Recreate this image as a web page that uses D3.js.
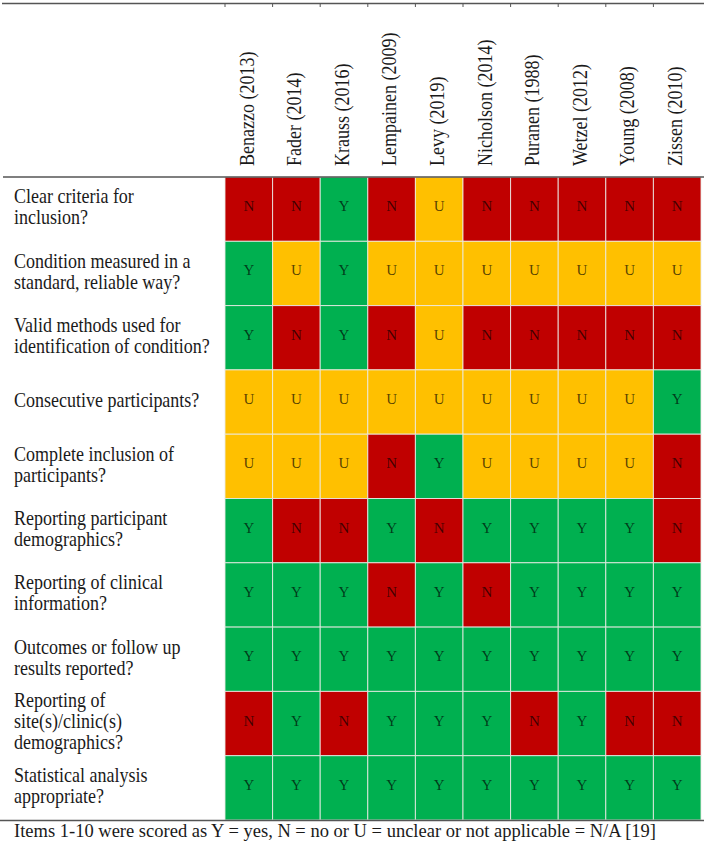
<!DOCTYPE html>
<html>
<head>
<meta charset="utf-8">
<script src="https://cdn.jsdelivr.net/npm/d3@7"></script>
<style>
  body { margin: 0; background: #fff; }
  svg { display: block; font-family: "Liberation Serif", "Times New Roman", serif; }
</style>
</head>
<body>
<div id="chart"></div>
<script>
// studies (columns)
const studies = ["Benazzo (2013)", "Fader (2014)", "Krauss (2016)", "Lempainen (2009)", "Levy (2019)",
    "Nicholson (2014)", "Puranen (1988)", "Wetzel (2012)", "Young (2008)", "Zissen (2010)"];

// checklist items (rows), split in lines as printed
const items = [
    ["Clear criteria for", "inclusion?"],
    ["Condition measured in a", "standard, reliable way?"],
    ["Valid methods used for", "identification of condition?"],
    ["Consecutive participants?"],
    ["Complete inclusion of", "participants?"],
    ["Reporting participant", "demographics?"],
    ["Reporting of clinical", "information?"],
    ["Outcomes or follow up", "results reported?"],
    ["Reporting of", "site(s)/clinic(s)", "demographics?"],
    ["Statistical analysis", "appropriate?"]
];

// scores, one string per item, one letter per study
const scores = [
    "NNYNUNNNNN",
    "YUYUUUUUUU",
    "YNYNUNNNNN",
    "UUUUUUUUUY",
    "UUUNYUUUUN",
    "YNNYNYYYYN",
    "YYYNYNYYYY",
    "YYYYYYYYYY",
    "NYNYYYNYNN",
    "YYYYYYYYYY"
];

const scoreKeys = ["Y", "N", "U"];
const scoreColors = ["#00B050", "#C00000", "#FFC000"];

const footnote = "Items 1-10 were scored as Y = yes, N = no or U = unclear or not applicable = N/A [19]";

function init() {
    const w = 704;
    const h = 843;
    const squeeze = 0.9; // the printed serif is a bit narrow

    const svg = d3.select("#chart")
        .append("svg")
        .attr("width", w)
        .attr("height", h);

    const x = d3.scaleBand()
        .domain(studies)
        .range([225, 701]);

    const y = d3.scaleBand()
        .domain(d3.range(items.length))
        .range([177, 820]);

    const color = d3.scaleOrdinal().domain(scoreKeys).range(scoreColors);

    let cells = [];
    scores.forEach(function (row, i) {
        row.split("").forEach(function (s, j) {
            cells.push({ row: i, study: studies[j], score: s });
        });
    });

    // coloured cells
    svg.append("g")
        .selectAll("rect")
        .data(cells)
        .enter()
        .append("rect")
        .attr("x", d => x(d.study))
        .attr("y", d => y(d.row))
        .attr("width", x.bandwidth())
        .attr("height", y.bandwidth())
        .attr("fill", d => color(d.score))
        .attr("stroke", "rgba(235,235,230,0.85)")
        .attr("stroke-width", 1);

    // letters
    svg.append("g")
        .selectAll("text")
        .data(cells)
        .enter()
        .append("text")
        .attr("x", d => x(d.study) + x.bandwidth() / 2)
        .attr("y", d => y(d.row) + y.bandwidth() / 2 - 3)
        .attr("text-anchor", "middle")
        .attr("dominant-baseline", "central")
        .attr("font-size", 15)
        .attr("fill", "#000")
        .attr("fill-opacity", 0.68)
        .text(d => d.score);

    // row labels, one text per printed line
    const lineH = 21;
    let labelLines = [];
    items.forEach(function (lines, i) {
        lines.forEach(function (line, k) {
            labelLines.push({ line: line, k: k, n: lines.length, row: i });
        });
    });

    svg.append("g")
        .selectAll("text")
        .data(labelLines)
        .enter()
        .append("text")
        .attr("transform", d => "translate(14," +
            (y(d.row) + y.bandwidth() / 2 - 2 + (d.k - (d.n - 1) / 2) * lineH) + ") scale(" + squeeze + ",1)")
        .attr("font-size", 20)
        .attr("fill", "#1a1a1a")
        .attr("dominant-baseline", "central")
        .text(d => d.line);

    // rotated study names
    svg.append("g")
        .selectAll("text")
        .data(studies)
        .enter()
        .append("text")
        .attr("transform", d => "translate(" + (x(d) + x.bandwidth() / 2 - 2) + ",166) rotate(-90) scale(" + squeeze + ",1)")
        .attr("font-size", 20)
        .attr("fill", "#1a1a1a")
        .attr("dominant-baseline", "central")
        .text(d => d);

    // rules
    const rule = "#555";
    svg.append("line")
        .attr("x1", 2).attr("x2", w).attr("y1", 3.5).attr("y2", 3.5)
        .attr("stroke", rule).attr("stroke-width", 1.5);
    svg.append("g")
        .selectAll("line")
        .data(studies)
        .enter()
        .append("line")
        .attr("x1", d => x(d)).attr("x2", d => x(d))
        .attr("y1", 3.5).attr("y2", 7)
        .attr("stroke", rule).attr("stroke-width", 1);
    svg.append("line")
        .attr("x1", 3).attr("x2", w).attr("y1", 177).attr("y2", 177)
        .attr("stroke", rule).attr("stroke-width", 1.5);
    svg.append("line")
        .attr("x1", 0).attr("x2", w).attr("y1", 820.5).attr("y2", 820.5)
        .attr("stroke", rule).attr("stroke-width", 1.5);

    // footnote
    svg.append("text")
        .attr("x", 14)
        .attr("y", 837)
        .attr("font-size", 19)
        .attr("fill", "#1a1a1a")
        .attr("textLength", 642)
        .attr("lengthAdjust", "spacingAndGlyphs")
        .text(footnote);
}

window.addEventListener('load', init);
</script>
</body>
</html>
